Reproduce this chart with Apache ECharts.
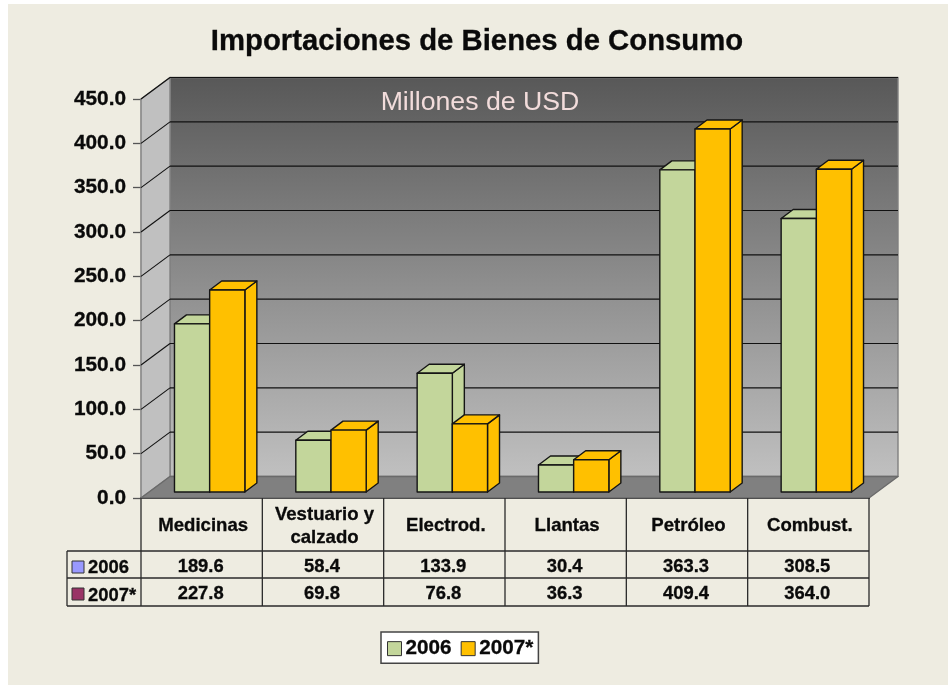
<!DOCTYPE html>
<html>
<head>
<meta charset="utf-8">
<title>Importaciones de Bienes de Consumo</title>
<script src="https://cdn.jsdelivr.net/npm/echarts@6/dist/echarts.min.js"></script>
<style>
  html, body { margin: 0; padding: 0; background: #ffffff; }
  #panel { position: absolute; left: 8px; top: 4px; width: 940px; height: 681px; background: #eeece1; }
  #chart { position: absolute; left: 0; top: 0; width: 948px; height: 685px; }
</style>
</head>
<body>
<div id="panel"></div>
<div id="chart"></div>
<script>
var categories = ['Medicinas', 'Vestuario y\ncalzado', 'Electrod.', 'Llantas', 'Petróleo', 'Combust.']
var values2006 = [189.6, 58.4, 133.9, 30.4, 363.3, 308.5]
var values2007 = [227.8, 69.8, 76.8, 36.3, 409.4, 364.0]
var seriesNames = ['2006', '2007*']
var gridTicks = [0, 50, 100, 150, 200, 250, 300, 350, 400, 450]

var FONT = '"Liberation Sans", Arial, sans-serif'
var TEXT_COLOR = '#0a0a0a'
var FLOOR_DX = 29
var FLOOR_DY = 21.5
var BAR_SHIFT_X = 8
var BAR_SHIFT_Y = 6
var BAR_DX = 12
var BAR_DY = 9
var LEFT_COL_X = 67
var ROW_Y = [551, 578, 606]
var LINE_COLOR = '#2a2a2a'

function poly(points, fill, stroke) {
  return {
    type: 'polygon',
    shape: { points: points },
    style: { fill: fill, stroke: stroke, lineWidth: 1.4, lineJoin: 'round' }
  }
}

function line(x1, y1, x2, y2, color, width) {
  return {
    type: 'line',
    shape: { x1: x1, y1: y1, x2: x2, y2: y2 },
    style: { stroke: color, lineWidth: width || 1.3 }
  }
}

function cellText(text, x, y, align) {
  return {
    type: 'text',
    style: {
      text: text,
      x: x,
      y: y,
      align: align || 'center',
      verticalAlign: 'middle',
      fontFamily: FONT,
      fontWeight: 'bold',
      fontSize: 18.4,
      fill: TEXT_COLOR,
      stroke: TEXT_COLOR,
      lineWidth: 0.3
    }
  }
}

// back wall, side wall, floor
function renderWalls(params, api) {
  var c = params.coordSys
  var x0 = c.x
  var x1 = c.x + c.width
  var y0 = api.coord([0, 0])[1]
  var yTop = api.coord([0, 450])[1]
  var backFill = new echarts.graphic.LinearGradient(0, 0, 0, 1, [
    { offset: 0, color: '#585858' },
    { offset: 1, color: '#c0c0c0' }
  ])
  return {
    type: 'group',
    children: [
      poly([[x0 + FLOOR_DX, yTop - FLOOR_DY], [x1 + FLOOR_DX, yTop - FLOOR_DY], [x1 + FLOOR_DX, y0 - FLOOR_DY], [x0 + FLOOR_DX, y0 - FLOOR_DY]], backFill, '#808080'),
      poly([[x0, y0], [x0 + FLOOR_DX, y0 - FLOOR_DY], [x0 + FLOOR_DX, yTop - FLOOR_DY], [x0, yTop]], '#c0c0c0', '#808080'),
      poly([[x0, y0], [x1, y0], [x1 + FLOOR_DX, y0 - FLOOR_DY], [x0 + FLOOR_DX, y0 - FLOOR_DY]], '#808080', '#6a6a6a')
    ]
  }
}

// gridline running along the side wall and the back wall
function renderGridline(params, api) {
  var c = params.coordSys
  var y = api.coord([0, api.value(0)])[1]
  return {
    type: 'group',
    children: [
      line(c.x, y, c.x + FLOOR_DX, y - FLOOR_DY, '#111111', 1.1),
      line(c.x + FLOOR_DX, y - FLOOR_DY, c.x + c.width + FLOOR_DX, y - FLOOR_DY, '#111111', 1.1)
    ]
  }
}

function barRenderer(slot, color) {
  return function(params, api) {
    var top = api.coord([api.value(0), api.value(1)])
    var base = api.coord([api.value(0), 0])
    var w = api.size([1, 0])[0] * 0.29
    var x = top[0] + BAR_SHIFT_X + (slot - 1) * w
    var yt = top[1] - BAR_SHIFT_Y
    var yb = base[1] - BAR_SHIFT_Y
    var stroke = '#151515'
    return {
      type: 'group',
      children: [
        poly([[x + w, yt], [x + w + BAR_DX, yt - BAR_DY], [x + w + BAR_DX, yb - BAR_DY], [x + w, yb]], color, stroke),
        poly([[x, yt], [x + BAR_DX, yt - BAR_DY], [x + w + BAR_DX, yt - BAR_DY], [x + w, yt]], color, stroke),
        poly([[x, yt], [x + w, yt], [x + w, yb], [x, yb]], color, stroke)
      ]
    }
  }
}

// data table below the axis, one call per category column
function renderTable(params, api) {
  var c = params.coordSys
  var i = api.value(0)
  var cx = api.coord([i, 0])[0]
  var halfW = api.size([1, 0])[0] / 2
  var y0 = api.coord([i, 0])[1]
  var mid1 = (ROW_Y[0] + ROW_Y[1]) / 2 + 2
  var mid2 = (ROW_Y[1] + ROW_Y[2]) / 2 + 2
  var children = [
    line(cx + halfW, y0, cx + halfW, ROW_Y[2], LINE_COLOR),
    cellText(api.value(1).toFixed(1), cx - 1, mid1),
    cellText(api.value(2).toFixed(1), cx - 1, mid2)
  ]
  if (i === 0) {
    children.push(
      line(c.x, y0, c.x, ROW_Y[2], LINE_COLOR),
      line(LEFT_COL_X, ROW_Y[0], LEFT_COL_X, ROW_Y[2], LINE_COLOR),
      line(LEFT_COL_X, ROW_Y[0], c.x + c.width, ROW_Y[0], LINE_COLOR),
      line(LEFT_COL_X, ROW_Y[1], c.x + c.width, ROW_Y[1], LINE_COLOR),
      line(LEFT_COL_X, ROW_Y[2], c.x + c.width, ROW_Y[2], LINE_COLOR),
      { type: 'rect', shape: { x: 72, y: 561, width: 12, height: 12 }, style: { fill: '#9999ff', stroke: '#333333', lineWidth: 1 } },
      { type: 'rect', shape: { x: 72, y: 588, width: 12, height: 12 }, style: { fill: '#993366', stroke: '#333333', lineWidth: 1 } },
      cellText(seriesNames[0], 88, mid1 + 1, 'left'),
      cellText(seriesNames[1], 88, mid2 + 2, 'left')
    )
  }
  return { type: 'group', children: children }
}

function toPoints(values) {
  return values.map(function(v, i) { return [i, v] })
}

var myChart = echarts.init(document.getElementById('chart'))

var heavy = { textBorderColor: TEXT_COLOR, textBorderWidth: 0.3 }

var option = {
  backgroundColor: 'transparent',
  animation: false,
  title: [
    {
      text: 'Importaciones de Bienes de Consumo',
      left: 472,
      top: 22,
      textAlign: 'center',
      textStyle: Object.assign({ fontFamily: FONT, fontWeight: 'bold', fontSize: 29.3, color: TEXT_COLOR }, heavy)
    },
    {
      text: 'Millones de USD',
      left: 475,
      top: 84,
      textAlign: 'center',
      textStyle: { fontFamily: FONT, fontWeight: 'normal', fontSize: 26.7, color: '#f2dcdb' }
    }
  ],
  legend: {
    data: [
      { name: seriesNames[0], itemStyle: { color: '#c3d69b', borderColor: '#333333', borderWidth: 1 } },
      { name: seriesNames[1], itemStyle: { color: '#ffc000', borderColor: '#333333', borderWidth: 1 } }
    ],
    left: 381,
    top: 632,
    padding: [6, 5, 4, 6],
    itemGap: 9,
    itemWidth: 14,
    itemHeight: 14,
    icon: 'rect',
    backgroundColor: '#ffffff',
    borderColor: '#444444',
    borderWidth: 1.5,
    textStyle: Object.assign({ fontFamily: FONT, fontWeight: 'bold', fontSize: 20.7, color: TEXT_COLOR, padding: [0, 0, 0, -1] }, heavy)
  },
  grid: { left: 141, right: 79, top: 99, height: 399, containLabel: false },
  xAxis: {
    type: 'category',
    data: categories,
    axisLine: { lineStyle: { color: '#000000', width: 2 } },
    axisTick: { show: false },
    axisLabel: Object.assign({
      interval: 0,
      margin: 28,
      verticalAlign: 'middle',
      fontFamily: FONT,
      fontWeight: 'bold',
      fontSize: 18.6,
      lineHeight: 23,
      padding: [0, 0, 0, 3],
      color: TEXT_COLOR
    }, heavy)
  },
  yAxis: {
    type: 'value',
    min: 0,
    max: 450,
    interval: 50,
    axisLine: { show: true, lineStyle: { color: '#555555', width: 1.3 } },
    axisTick: { show: true, length: 8, lineStyle: { color: '#555555', width: 1.3 } },
    splitLine: { show: false },
    axisLabel: Object.assign({
      margin: 15,
      padding: [6, 0, 0, 0],
      fontFamily: FONT,
      fontWeight: 'bold',
      fontSize: 20.8,
      color: TEXT_COLOR,
      formatter: function(v) { return v.toFixed(1) }
    }, heavy)
  },
  series: [
    { type: 'custom', name: 'walls', silent: true, z: 1, renderItem: renderWalls, data: [[0]], encode: { y: 0 } },
    { type: 'custom', name: 'grid', silent: true, z: 1, renderItem: renderGridline, data: gridTicks.slice(1).map(function(v) { return [v] }), encode: { y: 0 } },
    { type: 'custom', name: seriesNames[0], z: 2, itemStyle: { color: '#c3d69b' }, renderItem: barRenderer(0, '#c3d69b'), data: toPoints(values2006), encode: { x: 0, y: 1 } },
    { type: 'custom', name: seriesNames[1], z: 2, itemStyle: { color: '#ffc000' }, renderItem: barRenderer(1, '#ffc000'), data: toPoints(values2007), encode: { x: 0, y: 1 } },
    {
      type: 'custom',
      name: 'table',
      silent: true,
      z: 3,
      renderItem: renderTable,
      data: categories.map(function(c, i) { return [i, values2006[i], values2007[i]] }),
      encode: { x: 0 }
    }
  ]
}

myChart.setOption(option, true)
window.addEventListener('resize', function() {
  myChart.resize()
})
</script>
</body>
</html>
